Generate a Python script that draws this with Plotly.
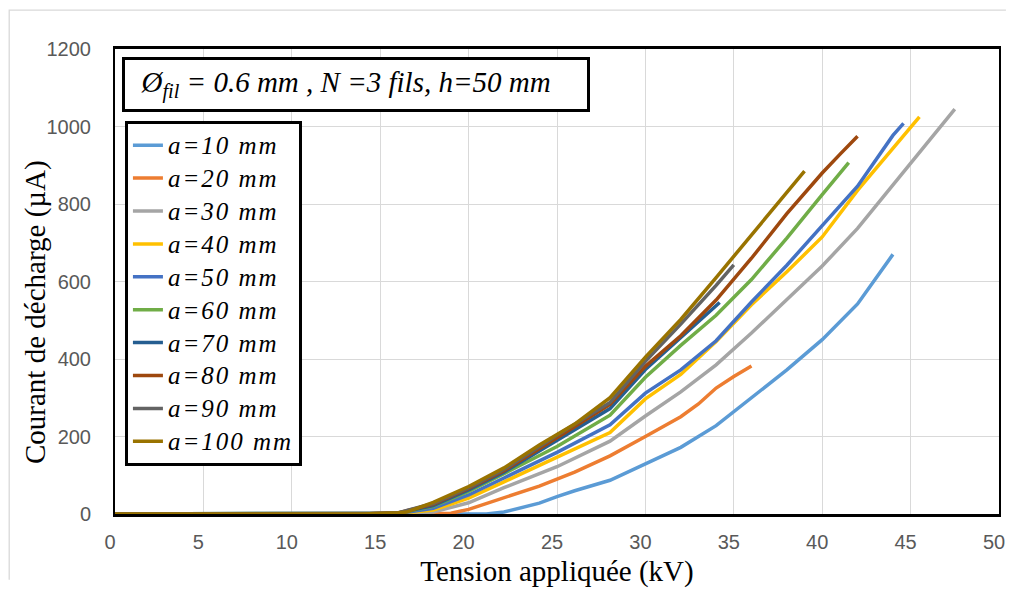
import plotly.graph_objects as go

ZERO_V = [0, 2, 4, 6, 8, 10, 12, 14]
ZERO_I = [0, 0, 0, 0, 0, 0, 0, 0]

labels = ["a=10 mm", "a=20 mm", "a=30 mm", "a=40 mm", "a=50 mm",
          "a=60 mm", "a=70 mm", "a=80 mm", "a=90 mm", "a=100 mm"]
colors = ["#5b9bd5", "#ed7d31", "#a5a5a5", "#ffc000", "#4472c4",
          "#70ad47", "#255e91", "#9e480e", "#636363", "#997300"]

v10 = ZERO_V + [16, 18, 20, 21, 22, 24, 25, 26, 28, 30, 32, 34, 36, 38, 40, 42, 44]
i10 = ZERO_I + [0, 0, 0, 0, 5, 28, 45, 60, 87, 130, 172, 228, 300, 372, 450, 542, 670]

v20 = ZERO_V + [16, 18, 19, 20, 22, 24, 26, 28, 30, 32, 33, 34, 35, 36]
i20 = ZERO_I + [0, 0, 2, 12, 43, 72, 108, 150, 200, 251, 284, 325, 355, 382]

v30 = ZERO_V + [16, 18, 20, 22, 25, 28, 30, 32, 34, 36, 38, 40, 42, 44, 46, 47.5]
i30 = ZERO_I + [0, 5, 29, 68, 122, 188, 253, 315, 385, 467, 555, 640, 737, 848, 961, 1045]

v40 = ZERO_V + [16, 18, 20, 22, 25, 28, 30, 32, 34, 36, 38, 40, 42, 44, 45.5]
i40 = ZERO_I + [1, 10, 41, 83, 147, 210, 297, 360, 445, 540, 625, 715, 835, 945, 1025]

v50 = ZERO_V + [16, 18, 20, 22, 25, 28, 30, 32, 34, 36, 38, 40, 42, 44, 44.6]
i50 = ZERO_I + [1, 15, 49, 93, 159, 230, 312, 372, 447, 547, 642, 744, 846, 977, 1008]

v60 = ZERO_V + [16, 18, 20, 22, 25, 28, 30, 32, 34, 36, 38, 40, 41.5]
i60 = ZERO_I + [2, 20, 58, 104, 174, 255, 353, 435, 513, 605, 712, 824, 907]

v70 = ZERO_V + [16, 18, 20, 22, 25, 28, 30, 32, 34.2]
i70 = ZERO_I + [2, 22, 62, 108, 191, 272, 373, 455, 546]

v80 = ZERO_V + [16, 18, 20, 22, 25, 28, 30, 32, 34, 36, 38, 40, 41, 42]
i80 = ZERO_I + [3, 25, 66, 112, 197, 283, 381, 460, 552, 660, 775, 880, 928, 975]

v90 = ZERO_V + [16, 18, 20, 22, 25, 28, 30, 32, 34, 35]
i90 = ZERO_I + [3, 27, 68, 115, 203, 288, 394, 490, 590, 643]

v100 = ZERO_V + [16, 16.5, 18, 20, 22, 24, 26, 28, 30, 32, 34, 36, 38, 39]
i100 = ZERO_I + [3, 5, 30, 71, 119, 178, 232, 300, 405, 502, 610, 720, 830, 885]

series_v = [v10, v20, v30, v40, v50, v60, v70, v80, v90, v100]
series_i = [i10, i20, i30, i40, i50, i60, i70, i80, i90, i100]

x_ticks = [0, 5, 10, 15, 20, 25, 30, 35, 40, 45, 50]
y_ticks = [0, 200, 400, 600, 800, 1000, 1200]

x_title = "Tension appliquée (kV)"
y_title = "Courant de décharge (µA)"
box_text = "<i>&nbsp;&nbsp;Ø<sub>fil</sub> = 0.6 mm , N =3 fils, h=50 mm</i>"

SERIF = "Liberation Serif, Times New Roman, serif"
SANS = "Liberation Sans, Arial, sans-serif"
LEG_STYLE = "font-size:25px;letter-spacing:2px"

fig = go.Figure()
for v, i, name, col in zip(series_v, series_i, labels, colors):
    fig.add_trace(go.Scatter(
        x=v, y=i, mode="lines",
        name=f'<span style="{LEG_STYLE}">{name}</span>',
        line=dict(color=col, width=3.5)))

# page body has an 8px margin; plot area aimed at page x 115..1005, y 49..522
OFF = 8
W, H = 1021 - 2 * OFF, 598 - 2 * OFF
L, T = 115 - OFF, 49 - OFF
R = W - (1005 - OFF)
B = H - (522 - OFF)
pw, ph = W - L - R, H - T - B


def px(x):
    return (x - OFF - L) / pw


def py(y):
    return (H - B - (y - OFF)) / ph


frame_path = "M {x0},{y0} L {x0},{y1} L {x1},{y1}".format(
    x0=px(8.5), y0=-(B - 1) / ph, y1=py(9.5), x1=(W - L - 1) / pw)

fig.update_layout(
    width=W, height=H,
    margin=dict(l=L, r=R, t=T, b=B),
    paper_bgcolor="white", plot_bgcolor="white",
    showlegend=True,
    legend=dict(
        x=px(125), y=py(122), xanchor="left", yanchor="top",
        bordercolor="black", borderwidth=3, bgcolor="white",
        font=dict(family=SERIF, size=23, color="black", style="italic"),
        tracegroupgap=0, itemwidth=30,
    ),
    xaxis=dict(
        range=[0, 50], tickvals=x_ticks, ticktext=[str(t) for t in x_ticks],
        showgrid=True, gridcolor="#d9d9d9", gridwidth=1.3,
        zeroline=False, showline=True, linecolor="black", linewidth=2.5,
        mirror=True, ticks="", ticklabelstandoff=8, ticklabelshift=-5,
        tickfont=dict(family=SANS, size=20, color="#595959"),
        title=dict(text=x_title, standoff=9,
                   font=dict(family=SERIF, size=29, color="black")),
    ),
    yaxis=dict(
        range=[0, 1200], tickvals=y_ticks, ticktext=[str(t) for t in y_ticks],
        showgrid=True, gridcolor="#d9d9d9", gridwidth=1.3,
        zeroline=False, showline=True, linecolor="black", linewidth=2,
        mirror=True, ticks="", ticklabelstandoff=18,
        tickfont=dict(family=SANS, size=20, color="#595959"),
    ),
    shapes=[
        dict(type="path", xref="paper", yref="paper", path=frame_path,
             line=dict(color="#d9d9d9", width=1.3), layer="below"),
    ],
    annotations=[
        dict(xref="paper", yref="paper", x=px(122), y=py(57),
             xanchor="left", yanchor="top", showarrow=False,
             text=box_text,
             font=dict(family=SERIF, size=29, color="black"),
             align="left", width=458, height=45, borderpad=2,
             bordercolor="black", borderwidth=3, bgcolor="white"),
        dict(xref="paper", yref="paper", x=px(35), y=py(317),
             xanchor="center", yanchor="middle", showarrow=False,
             textangle=-90, text=y_title,
             font=dict(family=SERIF, size=29, color="black")),
    ],
)

fig.write_html("out.html")
